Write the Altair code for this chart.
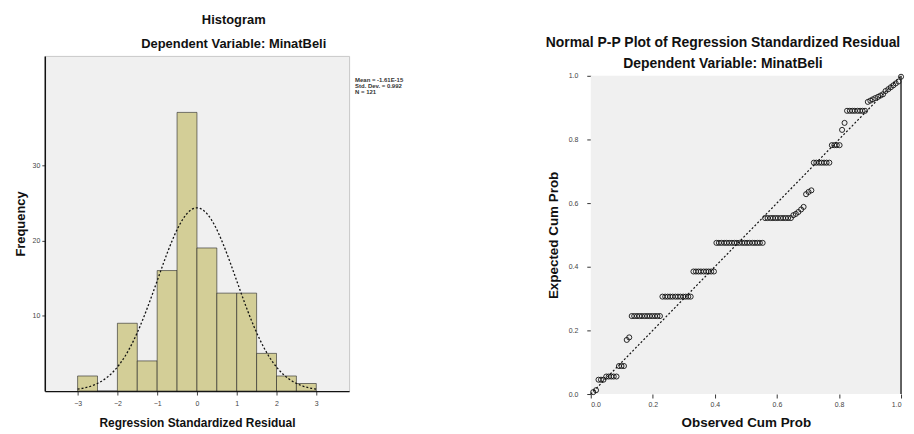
import altair as alt
import pandas as pd

FONT = "Liberation Sans"

# ---------------- Histogram data ----------------
bin_start = [-3.0, -2.5, -2.0, -1.5, -1.0, -0.5, 0.0, 0.5, 1.0, 1.5, 2.0, 2.5]
bin_width = 0.5
frequency = [2, 0, 9, 4, 16, 37, 19, 13, 13, 5, 2, 1]
res_mean = 0.0
res_sd = 0.992
res_n = 121
stats_lines = ["Mean = -1.61E-15", "Std. Dev. = 0.992", "N = 121"]
hist_x_ticks = [-3, -2, -1, 0, 1, 2, 3]
hist_y_ticks = [10, 20, 30]

# ---------------- P-P plot data ----------------
observed_cum_prob = [
    0.008, 0.017,
    0.025, 0.033, 0.041,
    0.050, 0.058, 0.066, 0.074, 0.083,
    0.091, 0.099, 0.107,
    0.116, 0.124,
    0.132, 0.140, 0.149, 0.157, 0.165, 0.174, 0.182, 0.190, 0.198, 0.207, 0.215, 0.223,
    0.231, 0.240, 0.248, 0.256, 0.264, 0.273, 0.281, 0.289, 0.298, 0.306, 0.314, 0.322,
    0.331, 0.339, 0.347, 0.355, 0.364, 0.372, 0.380, 0.388, 0.397,
    0.405, 0.413, 0.421, 0.430, 0.438, 0.446, 0.455, 0.463, 0.471, 0.479,
    0.488, 0.496, 0.504, 0.512, 0.521, 0.529, 0.537, 0.545, 0.554,
    0.562, 0.570, 0.579, 0.587, 0.595, 0.603, 0.612, 0.620, 0.628, 0.636, 0.645,
    0.653, 0.661, 0.669, 0.678, 0.686,
    0.694, 0.702, 0.711,
    0.719, 0.727, 0.736, 0.744, 0.752, 0.760, 0.769,
    0.777, 0.785, 0.793, 0.802,
    0.810, 0.818,
    0.826, 0.835, 0.843, 0.851, 0.860, 0.868, 0.876, 0.884,
    0.893, 0.901, 0.909, 0.917, 0.926, 0.934, 0.942,
    0.950, 0.959, 0.967, 0.975, 0.983, 0.992,
    1.000,
]
expected_cum_prob = [
    0.006, 0.012,
    0.045, 0.045, 0.045,
    0.055, 0.055, 0.055, 0.055, 0.055,
    0.088, 0.088, 0.088,
    0.170, 0.178,
    0.245, 0.245, 0.245, 0.245, 0.245, 0.245, 0.245, 0.245, 0.245, 0.245, 0.245, 0.245,
    0.306, 0.306, 0.306, 0.306, 0.306, 0.306, 0.306, 0.306, 0.306, 0.306, 0.306, 0.306,
    0.385, 0.385, 0.385, 0.385, 0.385, 0.385, 0.385, 0.385, 0.385,
    0.475, 0.475, 0.475, 0.475, 0.475, 0.475, 0.475, 0.475, 0.475, 0.475,
    0.475, 0.475, 0.475, 0.475, 0.475, 0.475, 0.475, 0.475, 0.475,
    0.553, 0.553, 0.553, 0.553, 0.553, 0.553, 0.553, 0.553, 0.553, 0.553, 0.553,
    0.562, 0.566, 0.572, 0.580, 0.588,
    0.628, 0.635, 0.640,
    0.727, 0.727, 0.727, 0.727, 0.727, 0.727, 0.727,
    0.782, 0.782, 0.782, 0.782,
    0.830, 0.852,
    0.890, 0.890, 0.890, 0.890, 0.890, 0.890, 0.890, 0.890,
    0.918, 0.922, 0.926, 0.930, 0.934, 0.938, 0.942,
    0.952, 0.958, 0.964, 0.970, 0.976, 0.982,
    0.997,
]
pp_ticks = [0.0, 0.2, 0.4, 0.6, 0.8, 1.0]
diag = [0.0, 1.0]

# ---------------- Histogram panel ----------------
hist_df = pd.DataFrame({
    "x0": bin_start,
    "x1": [b + bin_width for b in bin_start],
    "freq": frequency,
})
hx = alt.Scale(domain=[-3.825, 3.825], nice=False, zero=False)
hy = alt.Scale(domain=[0, 44.5], nice=False)

bars = alt.Chart(hist_df).mark_rect(
    fill="#D3CE97", stroke="#222222", strokeWidth=1, strokeOpacity=0.6
).encode(
    x=alt.X("x0:Q", scale=hx, axis=alt.Axis(
        values=hist_x_ticks, format="d", title="Regression Standardized Residual",
        grid=False, domainColor="#111111", domainWidth=1.3, tickColor="#444444",
        tickSize=4, labelPadding=5, labelFontSize=7, labelColor="#444444",
        titleFontSize=12, titlePadding=11, titleFont=FONT, labelFont=FONT,
        titleFontWeight="bold", titleColor="#111111")),
    x2="x1:Q",
    y=alt.Y("freq:Q", scale=hy, axis=alt.Axis(
        values=hist_y_ticks, title="Frequency", grid=False,
        domainColor="#111111", domainWidth=1.5, tickColor="#444444", tickSize=3,
        labelPadding=2, labelFontSize=7, labelColor="#444444",
        titleFontSize=13, titlePadding=5, titleFont=FONT, labelFont=FONT,
        titleFontWeight="bold", titleColor="#111111")),
    y2=alt.datum(0),
)

curve = alt.Chart(alt.sequence(-3.0, 3.02, 0.04, as_="z")).transform_calculate(
    f=f"{res_n * bin_width} / ({res_sd} * sqrt(2 * PI)) * exp(-0.5 * pow((datum.z - {res_mean}) / {res_sd}, 2))"
).mark_line(color="#111111", strokeDash=[2, 2], strokeWidth=1.3).encode(
    x=alt.X("z:Q", scale=hx),
    y=alt.Y("f:Q", scale=hy),
)

stats = alt.Chart(pd.DataFrame({"t": ["\n".join(stats_lines)]})).mark_text(
    align="left", baseline="top", fontSize=6, lineHeight=6, lineBreak="\n",
    font=FONT, fontWeight="bold", color="#333333"
).encode(x=alt.value(312), y=alt.value(21), text="t:N")

left = alt.layer(bars, curve, stats).properties(
    width=306, height=337,
    view=alt.ViewBackground(fill="#F0F0F0", stroke="#C8C8C8"),
    title=alt.TitleParams(
        text="Histogram", subtitle="Dependent Variable: MinatBeli",
        font=FONT, fontSize=13, fontWeight="bold", color="#111111",
        subtitleFont=FONT, subtitleFontSize=13, subtitleFontWeight="bold",
        subtitleColor="#111111", subtitlePadding=11, offset=5,
        anchor="middle", frame="group", dx=37),
)

# ---------------- P-P panel ----------------
PPW = 312
pp_df = pd.DataFrame({"obs": observed_cum_prob, "exp": expected_cum_prob})
px = alt.Scale(domain=[0, 1], nice=False)
py = alt.Scale(domain=[0, 1], nice=False, range=[340, 20])

plot_bg = alt.Chart(pd.DataFrame({"k": [0]})).mark_rect(
    fill="#F0F0F0", stroke=None
).encode(x=alt.value(0), x2=alt.value(PPW), y=alt.value(20), y2=alt.value(340))

diag_line = alt.Chart(pd.DataFrame({"p": diag})).mark_line(
    color="#111111", strokeDash=[2, 2], strokeWidth=1.2
).encode(
    x=alt.X("p:Q", scale=px, axis=alt.Axis(
        values=pp_ticks, format=".1f", title="Observed Cum Prob", grid=False,
        domain=False, tickColor="#333333", tickSize=4, labelPadding=3,
        labelFontSize=7, labelColor="#444444", titleFontSize=13.5, titlePadding=8,
        titleFont=FONT, labelFont=FONT, titleFontWeight="bold", titleColor="#111111")),
    y=alt.Y("p:Q", scale=py, axis=alt.Axis(
        values=pp_ticks, format=".1f", title="Expected Cum Prob", grid=False,
        domain=False, tickColor="#333333", tickSize=4, labelPadding=9,
        labelFontSize=7, labelColor="#444444", titleFontSize=13.5, titlePadding=8,
        titleFont=FONT, labelFont=FONT, titleFontWeight="bold", titleColor="#111111")),
)

points = alt.Chart(pp_df).mark_point(
    shape="circle", filled=False, size=26, color="#111111", strokeWidth=0.9, opacity=1
).encode(
    x=alt.X("obs:Q", scale=px),
    y=alt.Y("exp:Q", scale=py),
)

frame_right = alt.Chart(pd.DataFrame({"k": [0]})).mark_rule(
    color="#222222", strokeWidth=1.4
).encode(x=alt.value(PPW), y=alt.value(20), y2=alt.value(340))

right = alt.layer(plot_bg, diag_line, points, frame_right).properties(
    width=PPW, height=340,
    view=alt.ViewBackground(fill=None, stroke=None),
    title=alt.TitleParams(
        text="Normal P-P Plot of Regression Standardized Residual",
        subtitle="Dependent Variable: MinatBeli",
        font=FONT, fontSize=14, fontWeight="bold", color="#111111",
        subtitleFont=FONT, subtitleFontSize=14, subtitleFontWeight="bold",
        subtitleColor="#111111", subtitlePadding=7, offset=5, dy=20,
        anchor="middle", frame="group", dx=-23),
)

chart = alt.hconcat(left, right, spacing=141).configure(
    padding={"left": 5, "top": 4, "right": 0, "bottom": 0},
    background="white",
)

chart.save("out.html", embed_options={"renderer": "svg", "actions": False})
